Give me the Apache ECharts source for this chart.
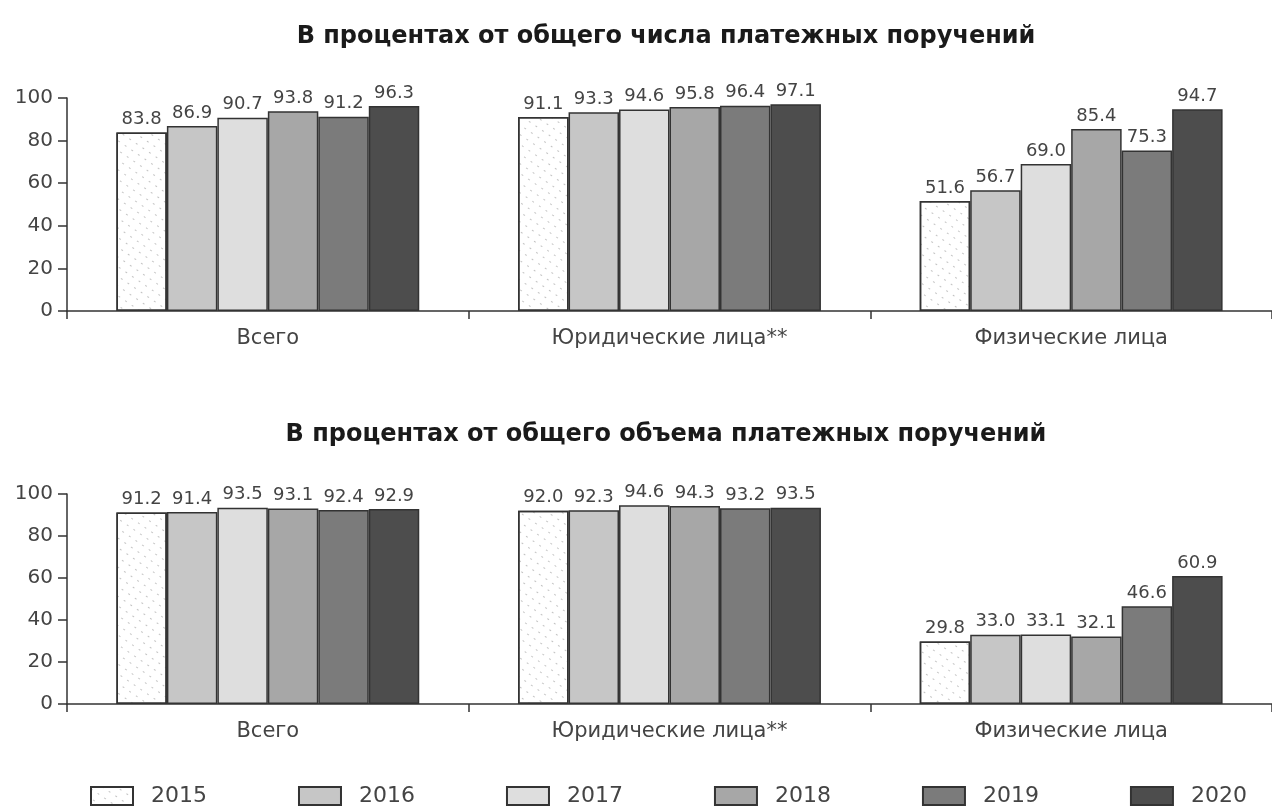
<!DOCTYPE html>
<html>
<head>
<meta charset="utf-8">
<script src="https://cdn.jsdelivr.net/npm/echarts@6/dist/echarts.min.js"></script>
<style>
  html, body { margin: 0; padding: 0; background: #fff; }
  #chart { width: 1272px; height: 812px; }
</style>
</head>
<body>
<div id="chart"></div>
<script>
// categories and years
const categories = ['Всего', 'Юридические лица**', 'Физические лица'];
const years = ['2015', '2016', '2017', '2018', '2019', '2020'];

// share of number of payment orders, by year: [Всего, Юр. лица, Физ. лица]
const countShare = [
  [83.8, 91.1, 51.6],
  [86.9, 93.3, 56.7],
  [90.7, 94.6, 69.0],
  [93.8, 95.8, 85.4],
  [91.2, 96.4, 75.3],
  [96.3, 97.1, 94.7],
];
// share of volume of payment orders
const volumeShare = [
  [91.2, 92.0, 29.8],
  [91.4, 92.3, 33.0],
  [93.5, 94.6, 33.1],
  [93.1, 94.3, 32.1],
  [92.4, 93.2, 46.6],
  [92.9, 93.5, 60.9],
];

const titles = [
  'В процентах от общего числа платежных поручений',
  'В процентах от общего объема платежных поручений',
];

// grey fills, light to dark; 2015 is white with dotted hatching
const fills = ['#ffffff', '#c6c6c6', '#dedede', '#a7a7a7', '#7b7b7b', '#4d4d4d'];
const dots = [
  { symbol: 'circle', symbolSize: 0.35, color: 'rgba(60,60,60,0.8)', dashArrayX: [4, 4], dashArrayY: [3, 5], rotation: 0.6, backgroundColor: 'transparent' },
  null, null, null, null, null,
];

const AXIS = '#333333';
const LABEL = '#444444';
const FONT = '"DejaVu Sans", Verdana, sans-serif';

function xAxisFor(gridIndex) {
  return {
    type: 'category',
    gridIndex,
    data: categories,
    axisLine: { lineStyle: { color: AXIS, width: 1.5 } },
    axisTick: { show: true, length: 8, lineStyle: { color: AXIS, width: 1.5 } },
    axisLabel: { color: LABEL, fontSize: 21, fontFamily: FONT, margin: 17 },
  };
}

function yAxisFor(gridIndex) {
  return {
    type: 'value',
    gridIndex,
    min: 0,
    max: 100,
    interval: 20,
    axisLine: { show: true, lineStyle: { color: AXIS, width: 1.5 } },
    axisTick: { show: true, length: 9, lineStyle: { color: AXIS, width: 1.5 } },
    axisLabel: { color: LABEL, fontSize: 20, fontFamily: FONT, margin: 14 },
    splitLine: { show: false },
  };
}

function seriesFor(data, gridIndex) {
  return years.map((year, i) => ({
    name: year,
    type: 'bar',
    xAxisIndex: gridIndex,
    yAxisIndex: gridIndex,
    data: data[i],
    barGap: '0%',
    barCategoryGap: '24.6%',
    itemStyle: {
      color: fills[i],
      borderColor: AXIS,
      borderWidth: 1.5,
      decal: dots[i] || undefined,
    },
    label: {
      show: true,
      position: 'top',
      distance: 4,
      color: LABEL,
      fontSize: 18,
      fontFamily: FONT,
      formatter: (p) => p.value.toFixed(1),
    },
  }));
}

const chart = echarts.init(document.getElementById('chart'));
chart.setOption({
  animation: false,
  backgroundColor: '#ffffff',
  title: [
    { text: titles[0], left: 661, top: 20, textAlign: 'center',
      textStyle: { fontSize: 24, fontWeight: 'bold', color: '#1a1a1a', fontFamily: FONT } },
    { text: titles[1], left: 661, top: 418, textAlign: 'center',
      textStyle: { fontSize: 24, fontWeight: 'bold', color: '#1a1a1a', fontFamily: FONT } },
  ],
  legend: {
    data: years,
    left: 85,
    top: 780,
    itemWidth: 42,
    itemHeight: 18,
    itemGap: 91,
    icon: 'rect',
    textStyle: { fontSize: 22, color: LABEL, fontFamily: FONT, padding: [0, 0, 0, 13] },
  },
  grid: [
    { left: 67, right: 0, top: 98, height: 213 },
    { left: 67, right: 0, top: 494, height: 210 },
  ],
  xAxis: [xAxisFor(0), xAxisFor(1)],
  yAxis: [yAxisFor(0), yAxisFor(1)],
  series: [...seriesFor(countShare, 0), ...seriesFor(volumeShare, 1)],
});
</script>
</body>
</html>
